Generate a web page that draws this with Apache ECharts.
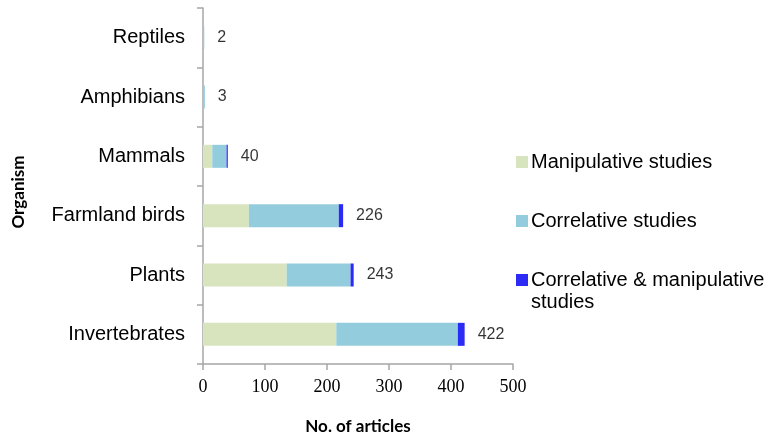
<!DOCTYPE html>
<html><head><meta charset="utf-8">
<script src="https://cdn.jsdelivr.net/npm/echarts@6/dist/echarts.min.js"></script>
<style>html,body{margin:0;padding:0;background:#fff}#c{width:771px;height:435px}</style>
</head><body><div id="c"></div>
<script>
const categories = ['Invertebrates','Plants','Farmland birds','Mammals','Amphibians','Reptiles'];
const manipulative = [215, 135, 74, 15, 0, 0];
const correlative = [196, 103, 145, 23, 3, 2];
const both = [11, 5, 7, 2, 0, 0];
const totals = [422, 243, 226, 40, 3, 2];
const xTicks = [0, 100, 200, 300, 400, 500];
const seriesNames = ['Manipulative studies','Correlative studies','Correlative & manipulative studies'];

const SANS = '"Liberation Sans", Arial, sans-serif';
const SERIF = '"Liberation Serif", "Times New Roman", serif';
const axisGrey = '#a6a6a6';
const chart = echarts.init(document.getElementById('c'));
chart.setOption({
  animation: false,
  grid: {left: 203, right: 258, top: 8, bottom: 71, containLabel: false, outerBoundsMode: 'none'},
  xAxis: {
    type: 'value', min: xTicks[0], max: xTicks[xTicks.length-1], interval: 100,
    name: 'No. of articles', nameLocation: 'middle', nameGap: 54,
    nameTextStyle: {fontFamily: 'Lato', fontWeight: 'bold', fontSize: 17, color: '#000'},
    axisLine: {show: true, lineStyle: {color: axisGrey, width: 1.5}},
    axisTick: {show: true, length: 6, lineStyle: {color: axisGrey, width: 1.5}},
    axisLabel: {fontFamily: SERIF, fontSize: 18, color: '#000', margin: 14},
    splitLine: {show: false}
  },
  yAxis: {
    type: 'category', data: categories,
    name: 'Organism', nameLocation: 'middle', nameGap: 176, nameRotate: 90,
    nameTextStyle: {fontFamily: 'Lato', fontWeight: 'bold', fontSize: 17, color: '#000', padding: [0,12,0,0]},
    axisLine: {show: true, lineStyle: {color: axisGrey, width: 1.5}},
    axisTick: {show: true, length: 6, lineStyle: {color: axisGrey, width: 1.5}},
    axisLabel: {fontFamily: SANS, fontSize: 20, color: '#000', margin: 18},
    splitLine: {show: false}
  },
  legend: {
    orient: 'vertical', left: 511, top: 147, itemGap: 39,
    itemWidth: 12, itemHeight: 12, icon: 'rect',
    data: seriesNames,
    formatter: n => n === seriesNames[2] ? 'Correlative & manipulative' : n,
    textStyle: {fontFamily: SANS, fontSize: 20, color: '#000', padding: [0,0,0,-2]}
  },
  graphic: [{
    type: 'text', left: 531, top: 292,
    style: {text: 'studies', font: '20px ' + SANS, fill: '#000'}
  }],
  series: [
    {name: seriesNames[0], type: 'bar', stack: 't', data: manipulative, barWidth: 23, itemStyle: {color: '#d7e4bd'}},
    {name: seriesNames[1], type: 'bar', stack: 't', data: correlative, barWidth: 23, itemStyle: {color: '#93cddd'}},
    {name: seriesNames[2], type: 'bar', stack: 't', data: both, barWidth: 23, itemStyle: {color: '#2b2bf5'}},
    {name: 'Total', type: 'scatter', data: totals.map((v, i) => [v, categories[i]]),
     symbolSize: 0, silent: true,
     label: {show: true, position: 'right', distance: 13, formatter: p => p.value[0],
             fontFamily: SANS, fontSize: 16, color: '#000'}}
  ]
});
</script></body></html>
